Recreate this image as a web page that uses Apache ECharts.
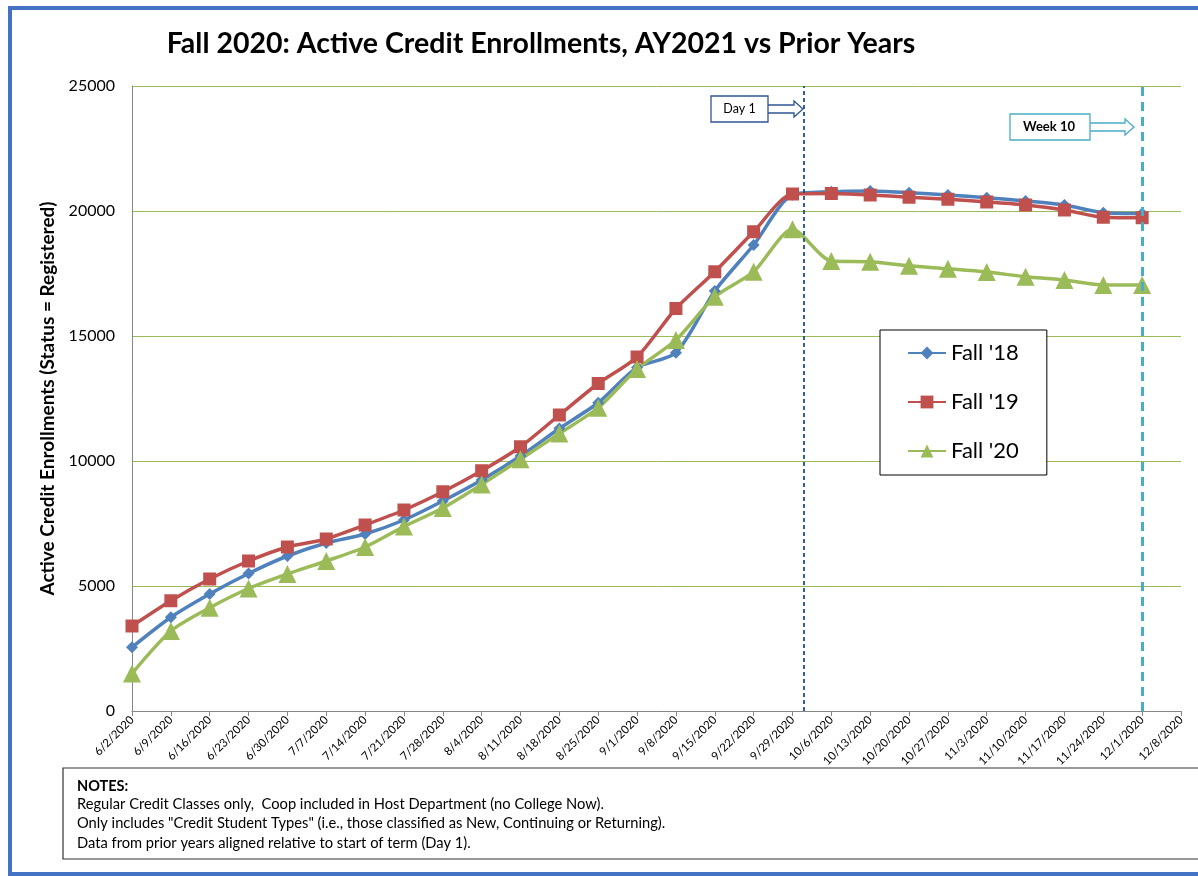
<!DOCTYPE html>
<html>
<head>
<meta charset="utf-8">
<script src="https://cdn.jsdelivr.net/npm/echarts@6/dist/echarts.min.js"></script>
<style>
html,body{margin:0;padding:0;background:#fff;}
#c{width:1198px;height:876px;}
</style>
</head>
<body>
<div id="c"></div>
<script>
const dates = ['6/2/2020','6/9/2020','6/16/2020','6/23/2020','6/30/2020','7/7/2020','7/14/2020','7/21/2020','7/28/2020','8/4/2020','8/11/2020','8/18/2020','8/25/2020','9/1/2020','9/8/2020','9/15/2020','9/22/2020','9/29/2020','10/6/2020','10/13/2020','10/20/2020','10/27/2020','11/3/2020','11/10/2020','11/17/2020','11/24/2020','12/1/2020','12/8/2020'];
const fall18 = [2550,3750,4680,5500,6200,6720,7080,7640,8400,9240,10200,11300,12330,13740,14330,16800,18640,20650,20770,20800,20730,20640,20530,20400,20240,19930,19900];
const fall19 = [3400,4410,5280,6000,6560,6880,7440,8040,8770,9610,10570,11840,13100,14160,16100,17570,19170,20680,20700,20640,20550,20470,20360,20240,20040,19750,19730];
const fall20 = [1500,3200,4130,4900,5480,6000,6560,7380,8120,9060,10070,11100,12130,13680,14840,16570,17570,19270,18000,17970,17810,17690,17560,17370,17240,17040,17040];
const seriesNames = ["Fall '18", "Fall '19", "Fall '20"];
const yTicks = [0, 5000, 10000, 15000, 20000, 25000];
const day1Pos = 17.29;   // between 9/29 and 10/6
const week10Pos = 26;    // 12/1/2020
const titleText = 'Fall 2020: Active Credit Enrollments, AY2021 vs Prior Years';
const yAxisTitle = 'Active Credit Enrollments (Status = Registered)';
const notes = ['Regular Credit Classes only,  Coop included in Host Department (no College Now).',
  'Only includes "Credit Student Types" (i.e., those classified as New, Continuing or Returning).',
  'Data from prior years aligned relative to start of term (Day 1).'];

const FONT = 'Lato, "Open Sans", sans-serif';
const toPairs = arr => arr.map((v, i) => [i, v]);

const chart = echarts.init(document.getElementById('c'), null, {renderer: 'canvas'});

function mkSeries(name, data, color, symbol, size) {
  return {
    name, type: 'line', data: toPairs(data), smooth: 0.25,
    symbol, symbolSize: size,
    lineStyle: {color, width: 3.5},
    itemStyle: {color},
    emphasis: {disabled: true}
  };
}

const s18 = mkSeries(seriesNames[0], fall18, '#4F81BD', 'diamond', 12);
const s19 = mkSeries(seriesNames[1], fall19, '#C0504D', 'rect', 13);
const s20 = mkSeries(seriesNames[2], fall20, '#9BBB59', 'triangle', 18);
s20.markLine = {
  silent: true, symbol: ['none', 'none'], label: {show: false},
  data: [
    {xAxis: day1Pos, lineStyle: {color: '#1F4E9A', type: [4, 3], width: 1.8}},
    {xAxis: week10Pos, lineStyle: {color: '#4BACC6', type: [9, 6], width: 3}}
  ]
};

function arrow(x0, x1, y, color) {
  const hb = 4, hh = 8, head = 9;
  return {
    type: 'polygon', z: 50,
    shape: {points: [[x0, y - hb], [x1 - head, y - hb], [x1 - head, y - hh], [x1, y], [x1 - head, y + hh], [x1 - head, y + hb], [x0, y + hb]]},
    style: {fill: '#fff', stroke: color, lineWidth: 1.3}
  };
}

const graphics = [
  {type: 'rect', z: -10, shape: {x: 10, y: 8, width: 1210, height: 866}, style: {fill: 'none', stroke: '#4472C4', lineWidth: 4}},
  {type: 'text', x: 541, y: 44, style: {text: titleText, font: 'bold 28.5px ' + FONT, fill: '#000', textAlign: 'center', textVerticalAlign: 'middle'}},
  arrow(767, 803, 109, '#2F5597'),
  {type: 'rect', z: 51, shape: {x: 711, y: 96, width: 57, height: 26}, style: {fill: '#fff', stroke: '#2F5597', lineWidth: 1.3}},
  {type: 'text', z: 52, x: 739.5, y: 109, style: {text: 'Day 1', font: '12.5px ' + FONT, fill: '#000', textAlign: 'center', textVerticalAlign: 'middle'}},
  arrow(1089, 1134, 127, '#4BACC6'),
  {type: 'rect', z: 51, shape: {x: 1010, y: 114, width: 80, height: 26}, style: {fill: '#fff', stroke: '#4BACC6', lineWidth: 1.3}},
  {type: 'text', z: 52, x: 1049, y: 127, style: {text: 'Week 10', font: 'bold 13px ' + FONT, fill: '#000', textAlign: 'center', textVerticalAlign: 'middle'}},
  {type: 'rect', shape: {x: 63, y: 768, width: 1160, height: 91}, style: {fill: '#fff', stroke: '#333', lineWidth: 1.2}},
  {type: 'text', x: 77, y: 786, style: {text: 'NOTES:', font: 'bold 14.5px ' + FONT, fill: '#000', textVerticalAlign: 'middle'}}
];
notes.forEach((t, i) => graphics.push({type: 'text', x: 77, y: 804 + i * 19.5, style: {text: t, font: '14.7px ' + FONT, fill: '#000', textVerticalAlign: 'middle'}}));

chart.setOption({
  animation: false,
  backgroundColor: '#fff',
  textStyle: {fontFamily: FONT},
  grid: {left: 132, right: 17, top: 86, bottom: 165, containLabel: false},
  xAxis: {
    type: 'value', min: 0, max: dates.length - 1, interval: 1,
    axisLine: {show: true, lineStyle: {color: '#868686', width: 1}},
    axisTick: {show: true, length: 5, lineStyle: {color: '#868686'}},
    splitLine: {show: false},
    axisLabel: {rotate: 45, fontSize: 11.5, color: '#000', margin: 7, formatter: v => dates[v] || '', showMaxLabel: true, showMinLabel: true}
  },
  yAxis: {
    type: 'value', min: yTicks[0], max: yTicks[yTicks.length - 1], interval: yTicks[1] - yTicks[0],
    name: yAxisTitle, nameLocation: 'middle', nameRotate: 90, nameGap: 74,
    nameTextStyle: {fontSize: 19, fontWeight: 'bold', color: '#000', fontFamily: FONT},
    axisLine: {show: true, lineStyle: {color: '#868686', width: 1}},
    axisTick: {show: false},
    splitLine: {show: true, lineStyle: {color: '#9BBB59', width: 1}},
    axisLabel: {fontSize: 16, color: '#000', margin: 17, formatter: v => String(v)}
  },
  legend: {
    show: true, orient: 'vertical', left: 880, top: 330,
    data: seriesNames,
    backgroundColor: '#fff', borderColor: '#000', borderWidth: 1,
    padding: [12, 28, 13, 27], itemGap: 27, itemWidth: 38, itemHeight: 16,
    textStyle: {fontSize: 22, color: '#000', fontFamily: FONT},
    selectedMode: false
  },
  series: [s18, s19, s20],
  graphic: graphics
});
</script>
</body>
</html>
